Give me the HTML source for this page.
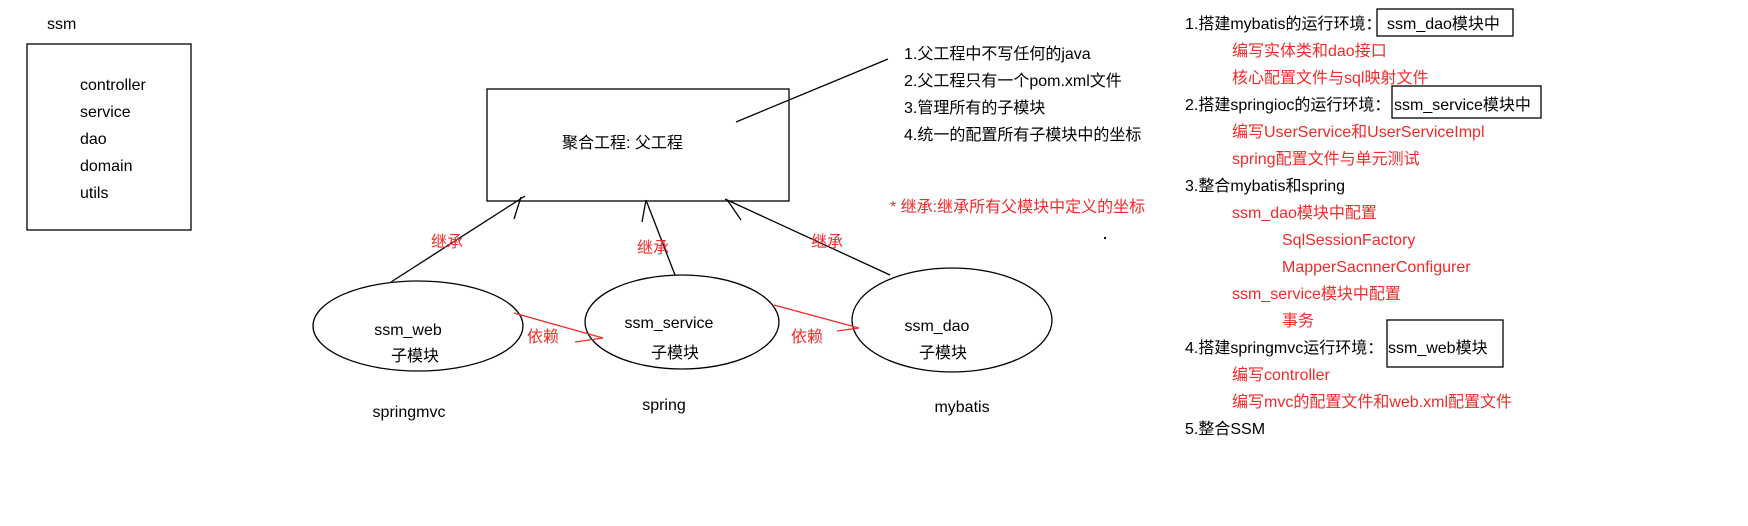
<!DOCTYPE html>
<html><head><meta charset="utf-8"><style>
html,body{margin:0;padding:0;background:#fff;width:1748px;height:526px;overflow:hidden}
svg text{font-family:"Liberation Sans","Noto Sans CJK SC",sans-serif;font-size:16px}
.r{fill:#f02a2a}
</style></head><body>
<svg width="1748" height="526" xmlns="http://www.w3.org/2000/svg">
<g fill="none" stroke="#000" stroke-width="1.3">
<rect x="27" y="44" width="164" height="186"/>
<rect x="487" y="89" width="302" height="112"/>
<line x1="736" y1="122" x2="888" y2="59"/>
<ellipse cx="418" cy="326" rx="105" ry="45"/>
<ellipse cx="682" cy="322" rx="97" ry="47"/>
<ellipse cx="952" cy="320" rx="100" ry="52"/>
<line x1="391" y1="282" x2="525" y2="196"/>
<line x1="514" y1="219" x2="521" y2="197"/>
<line x1="675" y1="275" x2="646" y2="200"/>
<line x1="642" y1="222" x2="646" y2="200"/>
<line x1="890" y1="275" x2="725" y2="199"/>
<line x1="741" y1="220" x2="728" y2="201"/>
</g>
<g stroke="#f02a2a" stroke-width="1.3" fill="none">
<line x1="514" y1="313" x2="603" y2="338"/>
<line x1="575" y1="342" x2="603" y2="338"/>
<line x1="774" y1="305" x2="859" y2="328"/>
<line x1="837" y1="331" x2="859" y2="328"/>
</g>
<rect x="1104" y="237" width="2" height="2" fill="#000"/>
<text x="47" y="29">ssm</text>
<text x="80" y="90">controller</text>
<text x="80" y="117">service</text>
<text x="80" y="144">dao</text>
<text x="80" y="171">domain</text>
<text x="80" y="198">utils</text>
<text x="562" y="148">聚合工程: 父工程</text>
<text x="904" y="59">1.父工程中不写任何的java</text>
<text x="904" y="86">2.父工程只有一个pom.xml文件</text>
<text x="904" y="113">3.管理所有的子模块</text>
<text x="904" y="140">4.统一的配置所有子模块中的坐标</text>
<text x="890" y="212" class="r">* 继承:继承所有父模块中定义的坐标</text>
<text x="431" y="247" class="r">继承</text>
<text x="637" y="253" class="r">继承</text>
<text x="811" y="247" class="r">继承</text>
<text x="527" y="342" class="r">依赖</text>
<text x="791" y="342" class="r">依赖</text>
<text x="408" y="335" text-anchor="middle">ssm_web</text>
<text x="415" y="361" text-anchor="middle">子模块</text>
<text x="669" y="328" text-anchor="middle">ssm_service</text>
<text x="675" y="358" text-anchor="middle">子模块</text>
<text x="937" y="331" text-anchor="middle">ssm_dao</text>
<text x="943" y="358" text-anchor="middle">子模块</text>
<text x="409" y="417" text-anchor="middle">springmvc</text>
<text x="664" y="410" text-anchor="middle">spring</text>
<text x="962" y="412" text-anchor="middle">mybatis</text>
<g fill="none" stroke="#000" stroke-width="1.3">
<rect x="1377" y="9" width="136" height="27"/>
<rect x="1392" y="86" width="149" height="32"/>
<rect x="1387" y="320" width="116" height="47"/>
</g>
<text x="1185" y="29">1.搭建mybatis的运行环境：</text>
<text x="1387" y="29">ssm_dao模块中</text>
<text x="1232" y="56" class="r">编写实体类和dao接口</text>
<text x="1232" y="83" class="r">核心配置文件与sql映射文件</text>
<text x="1185" y="110">2.搭建springioc的运行环境：</text>
<text x="1394" y="110">ssm_service模块中</text>
<text x="1232" y="137" class="r">编写UserService和UserServiceImpl</text>
<text x="1232" y="164" class="r">spring配置文件与单元测试</text>
<text x="1185" y="191">3.整合mybatis和spring</text>
<text x="1232" y="218" class="r">ssm_dao模块中配置</text>
<text x="1282" y="245" class="r">SqlSessionFactory</text>
<text x="1282" y="272" class="r">MapperSacnnerConfigurer</text>
<text x="1232" y="299" class="r">ssm_service模块中配置</text>
<text x="1282" y="326" class="r">事务</text>
<text x="1185" y="353">4.搭建springmvc运行环境：</text>
<text x="1388" y="353">ssm_web模块</text>
<text x="1232" y="380" class="r">编写controller</text>
<text x="1232" y="407" class="r">编写mvc的配置文件和web.xml配置文件</text>
<text x="1185" y="434">5.整合SSM</text>
</svg>
</body></html>
